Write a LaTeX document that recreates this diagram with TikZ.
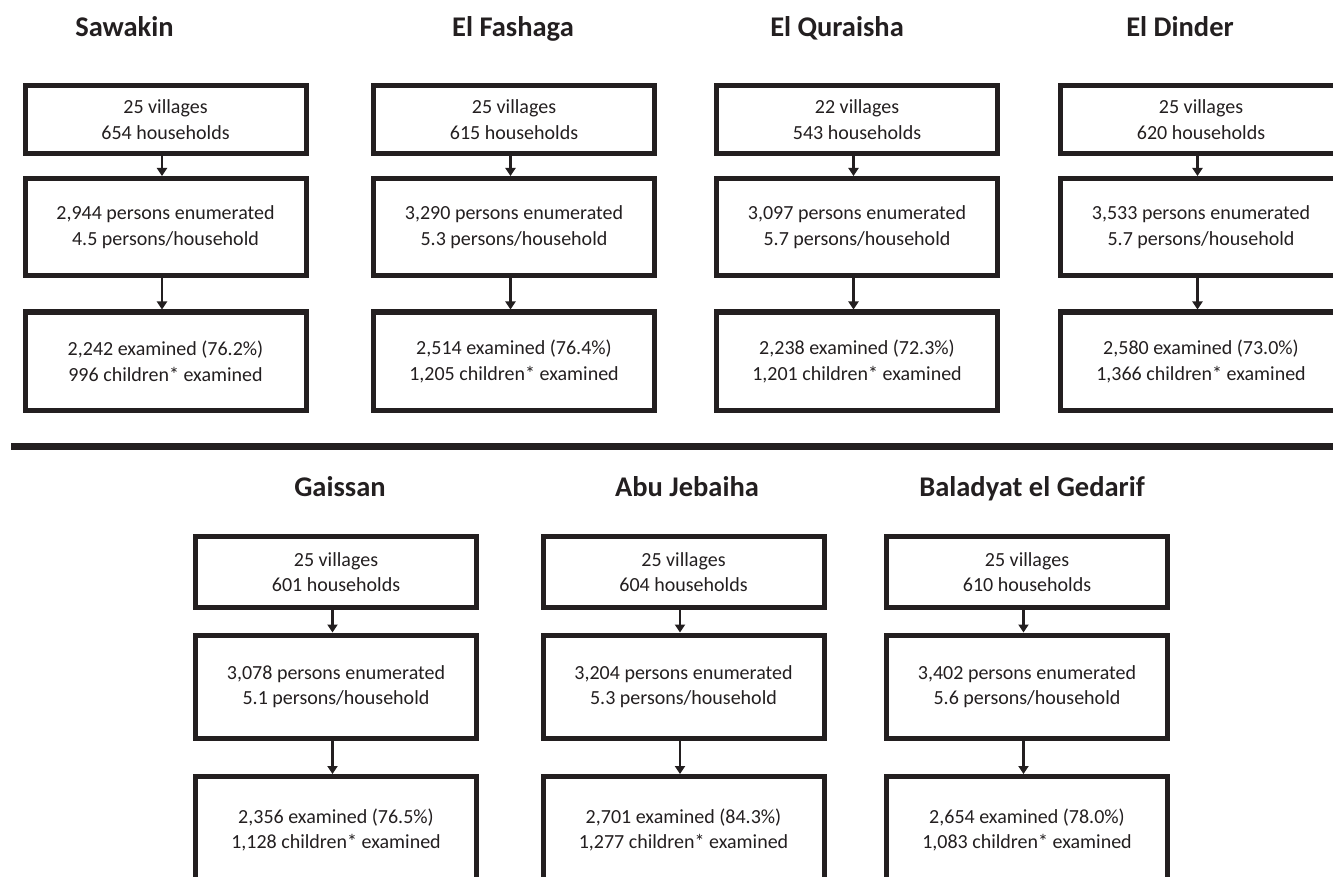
\documentclass[tikz,border=0pt]{standalone}
\usepackage{fontspec}
\setmainfont{Carlito}
\usetikzlibrary{arrows.meta}
\definecolor{ink}{RGB}{35,31,32}
\tikzset{
  box/.style={draw=ink, line width=5pt, minimum width=281pt, inner sep=0pt, align=center,
              text=ink, font=\fontsize{20}{25.5}\selectfont},
  b1/.style={box, minimum height=68pt},
  b2/.style={box, minimum height=97pt},
  b3/.style={box, minimum height=98.5pt},
  c1/.style={box, minimum height=71pt},
  c2/.style={box, minimum height=103pt},
  c3/.style={box, minimum height=107pt},
  ttl/.style={anchor=base, text=ink, inner sep=0pt, font=\fontsize{28.5}{34}\selectfont\bfseries},
  arr/.style={draw=ink, line width=2.5pt, -{Triangle[width=10pt,length=8pt]}},
}
\begin{document}
\begin{tikzpicture}[x=1pt,y=-1pt]
\clip (0,0) rectangle (1333,877);
\fill[white] (0,0) rectangle (1333,877);
% titles
\node[ttl] (tS) at (124.5,37) {Sawakin};
\node[ttl] (tF) at (513,37) {El Fashaga};
\node[ttl] (tQ) at (837,37) {El Quraisha};
\node[ttl] (tD) at (1180,37) {El Dinder};
\node[ttl] (tG) at (340,496) {Gaissan};
\node[ttl] (tA) at (687,496) {Abu Jebaiha};
\node[ttl] (tB) at (1032,496) {Baladyat el Gedarif};
% top row
\node[b1] (s1) at (165.5,119.5) {25 villages\\654 households};
\node[b2] (s2) at (165.5,227) {2,944 persons enumerated\\4.5 persons/household};
\node[b3] (s3) at (165.5,361.25) {2,242 examined (76.2\%)\\996 children* examined};
\node[b1] (f1) at (514,119.5) {25 villages\\615 households};
\node[b2] (f2) at (514,227) {3,290 persons enumerated\\5.3 persons/household};
\node[b3] (f3) at (514,361.25) {2,514 examined (76.4\%)\\1,205 children* examined};
\node[b1] (q1) at (857,119.5) {22 villages\\543 households};
\node[b2] (q2) at (857,227) {3,097 persons enumerated\\5.7 persons/household};
\node[b3] (q3) at (857,361.25) {2,238 examined (72.3\%)\\1,201 children* examined};
\node[b1] (d1) at (1201,119.5) {25 villages\\620 households};
\node[b2] (d2) at (1201,227) {3,533 persons enumerated\\5.7 persons/household};
\node[b3] (d3) at (1201,361.25) {2,580 examined (73.0\%)\\1,366 children* examined};
% separator
\coordinate (sepL) at (11,446.5);
\coordinate (sepR) at (1340,446.5);
\draw[ink, line width=7pt] (sepL) -- (sepR);
% bottom row
\node[c1] (g1) at (336,572) {25 villages\\601 households};
\node[c2] (g2) at (336,686.5) {3,078 persons enumerated\\5.1 persons/household};
\node[c3] (g3) at (336,830) {2,356 examined (76.5\%)\\1,128 children* examined};
\node[c1] (a1) at (683.5,572) {25 villages\\604 households};
\node[c2] (a2) at (683.5,686.5) {3,204 persons enumerated\\5.3 persons/household};
\node[c3] (a3) at (683.5,830) {2,701 examined (84.3\%)\\1,277 children* examined};
\node[c1] (e1) at (1027,572) {25 villages\\610 households};
\node[c2] (e2) at (1027,686.5) {3,402 persons enumerated\\5.6 persons/household};
\node[c3] (e3) at (1027,830) {2,654 examined (78.0\%)\\1,083 children* examined};
% arrows
\foreach \p in {s,f,q,d,g,a,e}{
  \draw[arr] ([xshift=-3.5pt]\p1.south) -- ([xshift=-3.5pt]\p2.north);
  \draw[arr] ([xshift=-3.5pt]\p2.south) -- ([xshift=-3.5pt]\p3.north);
}
\end{tikzpicture}
\end{document}
